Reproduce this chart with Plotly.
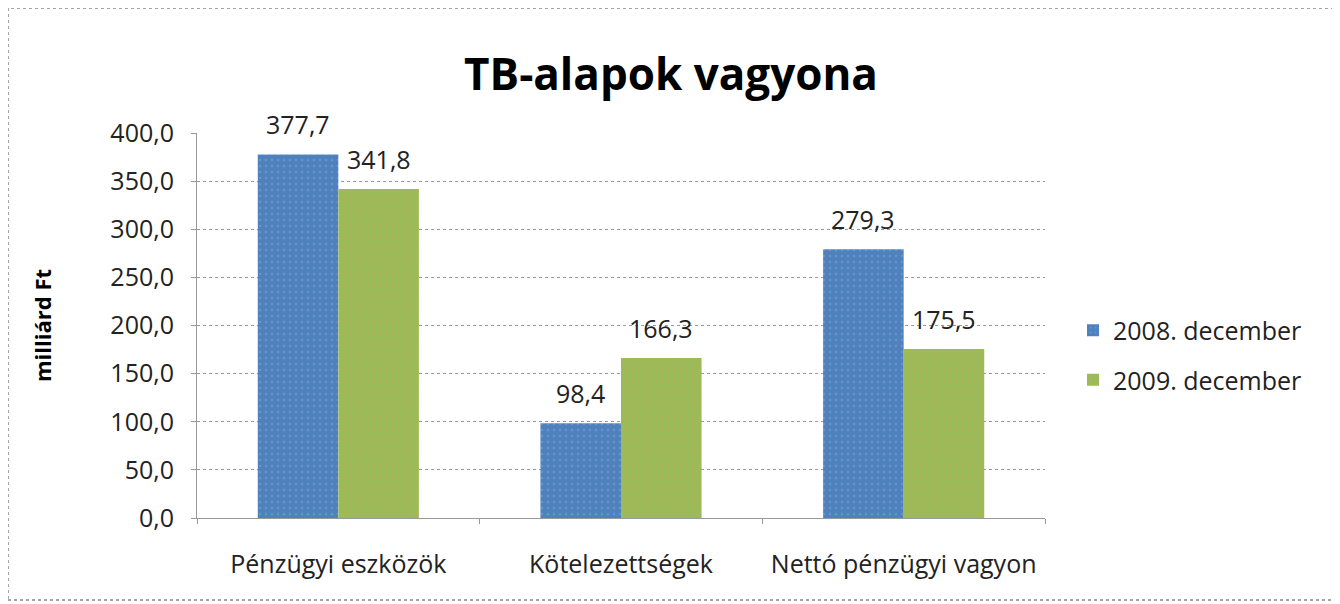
import plotly.graph_objects as go

categories = ["Pénzügyi eszközök", "Kötelezettségek", "Nettó pénzügyi vagyon"]
series_names = ["2008. december", "2009. december"]
values_2008 = [377.7, 98.4, 279.3]
values_2009 = [341.8, 166.3, 175.5]
y_ticks = [0, 50, 100, 150, 200, 250, 300, 350, 400]

colors = ["#4F81BD", "#9BBB59"]
fg = ["#7FA6D8", "#C3A857"]
FONT = "Open Sans, Lato, sans-serif"

# page body has an ~8px offset; figure coords = screen coords - 8
OFF = 8
W, H = 1340, 604
plot_l, plot_r, plot_t, plot_b = 197 - OFF, 1045 - OFF, 133 - OFF, 518 - OFF

fig = go.Figure()
for i, (name, vals) in enumerate(zip(series_names, [values_2008, values_2009])):
    fig.add_trace(go.Bar(
        x=categories, y=vals, name=name, legendgroup=name,
        offsetgroup=str(i),
        marker=dict(color=colors[i], line=dict(width=0),
                    pattern=dict(shape=".", size=6, solidity=0.15, fgcolor=fg[i], bgcolor=colors[i])),
    ))

# data labels as annotations above each bar
n = len(series_names)
bargap = 0.43
bw = (1 - bargap) / n
for i, vals in enumerate([values_2008, values_2009]):
    for j, v in enumerate(vals):
        fig.add_annotation(x=j + (i - (n - 1) / 2) * bw, y=v, xref="x", yref="y",
                           text=f"{v:.1f}".replace(".", ","), showarrow=False,
                           yshift=30, yanchor="middle",
                           font=dict(family=FONT, size=25, color="#222"))

fig.update_layout(
    width=W, height=H,
    paper_bgcolor="white", plot_bgcolor="white",
    separators=", ",
    margin=dict(l=plot_l, r=W - plot_r, t=plot_t, b=H - plot_b),
    barmode="group", bargap=bargap, bargroupgap=0,
    title=dict(text="<b>TB-alapok vagyona</b>", x=(671 - OFF) / W, xanchor="center",
               xref="container", yref="container",
               y=1 - (75 - OFF) / H, yanchor="middle",
               font=dict(family=FONT, size=44, color="#000")),
    font=dict(family=FONT, size=25, color="#222"),
    legend=dict(x=(1073 - 197) / (1045 - 197), y=(518 - 355) / (518 - 133),
                xanchor="left", yanchor="middle", traceorder="grouped",
                tracegroupgap=14, font=dict(family=FONT, size=25, color="#222"),
                bgcolor="rgba(0,0,0,0)"),
    showlegend=True,
)
fig.update_yaxes(range=[0, 400], tickvals=y_ticks, tickformat=".1f",
                 showgrid=True, gridcolor="#999", griddash="dot", gridwidth=1,
                 showline=True, linecolor="#999", linewidth=1,
                 ticks="outside", ticklen=5, tickcolor="#999",
                 zeroline=False, ticklabelstandoff=12,
                 title=dict(text="<b>milliárd Ft</b>", font=dict(family=FONT, size=22, color="#000"),
                            standoff=52),
                 tickfont=dict(family=FONT, size=25, color="#222"))
fig.update_xaxes(showline=True, linecolor="#999", linewidth=1,
                 ticks="outside", ticklen=5, tickcolor="#999", tickson="boundaries",
                 showgrid=False, tickfont=dict(family=FONT, size=25, color="#222"),
                 ticklabelstandoff=24)

pw = plot_r - plot_l
ph = plot_b - plot_t
fig.add_shape(type="rect", xref="paper", yref="paper",
              x0=(0 - plot_l) / pw, x1=(1327 - plot_l) / pw,
              y0=(plot_b - 592) / ph, y1=(plot_b - 0) / ph,
              line=dict(color="#888", width=1.5, dash="dot"), layer="below")

fig.write_html("out.html")
